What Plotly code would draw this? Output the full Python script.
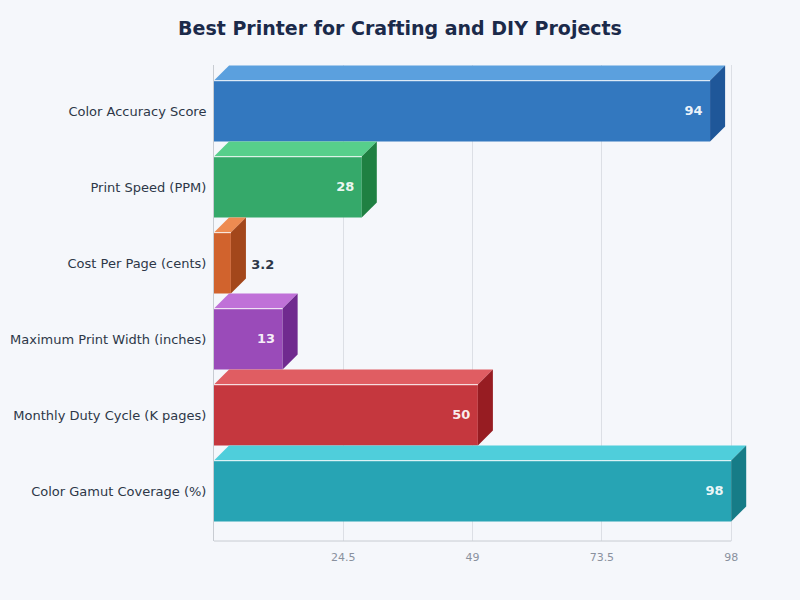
import plotly.graph_objects as go

categories = [
    "Color Accuracy Score",
    "Print Speed (PPM)",
    "Cost Per Page (cents)",
    "Maximum Print Width (inches)",
    "Monthly Duty Cycle (K pages)",
    "Color Gamut Coverage (%)",
]
values = [94, 28, 3.2, 13, 50, 98]
tick_vals = [24.5, 49, 73.5, 98]
tick_text = ["24.5", "49", "73.5", "98"]

front_colors = ["#3378bf", "#35a96a", "#d1632d", "#9a4bb9", "#c5373e", "#27a4b4"]
top_colors = ["#5ba0de", "#57cf8b", "#ee8b51", "#c071d8", "#e05d62", "#4fcedb"]
side_colors = ["#1f5799", "#1f8042", "#a3471b", "#702a8f", "#971c22", "#167c87"]

# 3d look: depth offsets in data units (~15px each way)
bar_w = 0.8
dx = 2.85
dy = 0.197
x_max = 101

ypos = list(range(len(categories)))
font = "DejaVu Sans, Verdana, sans-serif"

fig = go.Figure()

fig.add_trace(go.Bar(
    x=values, y=ypos, orientation="h", width=bar_w,
    marker=dict(color=front_colors, line=dict(width=0)),
    text=[f"{v}\u00a0" for v in values],
    textposition=["inside" if v >= 8 else "none" for v in values],
    insidetextanchor="end",
    textfont=dict(family=font, size=13, color="rgba(255,255,255,0.92)", weight="bold"),
    hoverinfo="skip", showlegend=False,
))

for i, v in enumerate(values):
    top = i - bar_w / 2
    bot = i + bar_w / 2
    # top face
    fig.add_trace(go.Scatter(
        x=[0, v, v + dx, dx, 0], y=[top, top, top - dy, top - dy, top],
        mode="lines", fill="toself", fillcolor=top_colors[i],
        line=dict(width=0), hoverinfo="skip", showlegend=False,
    ))
    # side face
    fig.add_trace(go.Scatter(
        x=[v, v + dx, v + dx, v, v], y=[top, top - dy, bot - dy, bot, top],
        mode="lines", fill="toself", fillcolor=side_colors[i],
        line=dict(width=0), hoverinfo="skip", showlegend=False,
    ))
    # highlight edge
    fig.add_trace(go.Scatter(
        x=[0, v], y=[top, top], mode="lines",
        line=dict(color="rgba(255,255,255,0.75)", width=1.2),
        hoverinfo="skip", showlegend=False,
    ))

small = [i for i, v in enumerate(values) if v < 8]
fig.add_trace(go.Scatter(
    x=[values[i] + dx + 1.0 for i in small], y=[ypos[i] + 0.03 for i in small],
    mode="text", text=[str(values[i]) for i in small],
    textposition="middle right",
    textfont=dict(family=font, size=13, color="#2d3748", weight="bold"),
    hoverinfo="skip", showlegend=False,
))

# x axis baseline stops at the last tick
fig.add_shape(type="line", xref="x", yref="paper", x0=0, x1=98, y0=0, y1=0,
              line=dict(color="#c8ccd2", width=1))

fig.update_layout(
    width=800, height=600,
    margin=dict(l=214, r=53, t=65, b=59),
    paper_bgcolor="#f5f7fb", plot_bgcolor="#f5f7fb",
    font=dict(family=font),
    title=dict(text="<b>Best Printer for Crafting and DIY Projects</b>",
               x=0.5, xanchor="center", y=0.953, yanchor="middle",
               font=dict(family=font, size=19, color="#1b2a4a")),
    bargap=0.2,
)
fig.update_xaxes(
    range=[0, x_max], tickvals=tick_vals, ticktext=tick_text,
    showgrid=True, gridcolor="#dcdfe5", gridwidth=1, zeroline=False,
    showline=False, ticks="", ticklabelstandoff=8, automargin=False,
    tickfont=dict(family=font, size=11, color="#8a919e"),
)
fig.update_yaxes(
    range=[5.658, -0.605], tickvals=ypos, ticktext=categories,
    showgrid=False, zeroline=False, showline=True, linecolor="#c8ccd2",
    ticks="", ticklabelstandoff=4, automargin=False,
    tickfont=dict(family=font, size=13, color="#2d3748"),
)

fig.write_html("out.html", config={"displayModeBar": False},
               post_script="document.body.style.margin='0';")
